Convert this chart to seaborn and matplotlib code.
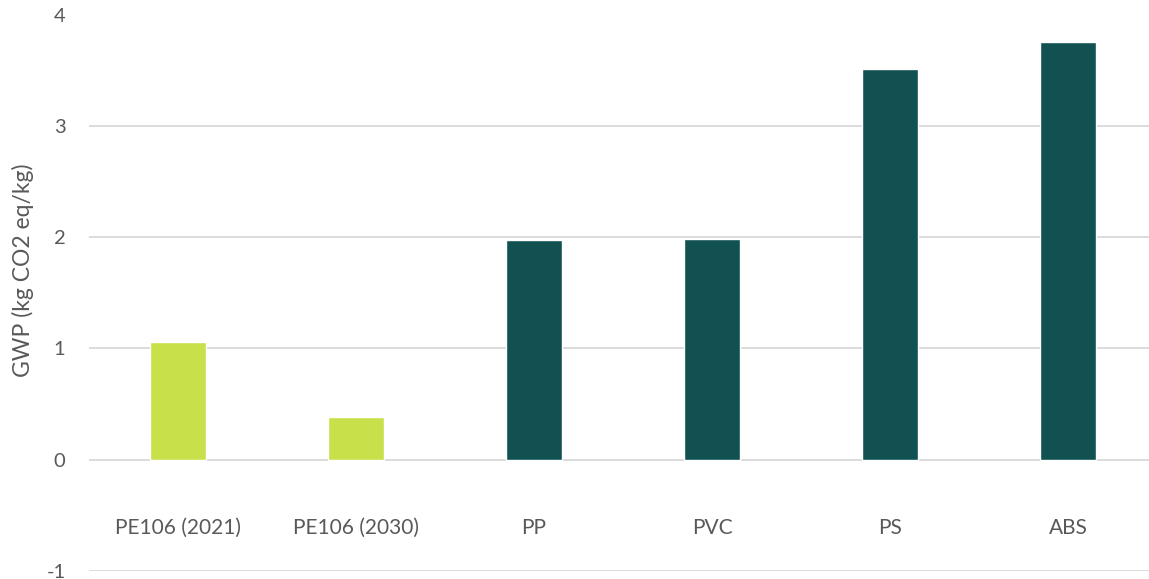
import matplotlib
matplotlib.use("Agg")
import matplotlib.pyplot as plt
import seaborn as sns
import pandas as pd

# data
materials = ["PE106 (2021)", "PE106 (2030)", "PP", "PVC", "PS", "ABS"]
gwp = [1.056, 0.38, 1.978, 1.982, 3.51, 3.75]
bar_colors = ["#C8E04A", "#C8E04A", "#115152", "#115152", "#115152", "#115152"]
y_ticks = [-1, 0, 1, 2, 3, 4]

sns.set_theme(style="white")
plt.rcParams["font.family"] = ["Lato", "DejaVu Sans"]
plt.rcParams["axes.unicode_minus"] = False

df = pd.DataFrame({"material": materials, "gwp": gwp})

fig = plt.figure(figsize=(11.49, 5.79), dpi=100)
# plot area runs past the right edge, as in the cropped original
ax = fig.add_axes([89 / 1149, 1 - 571 / 579, 1068 / 1149, 556.5 / 579])

sns.barplot(data=df, x="material", y="gwp", hue="material", palette=bar_colors,
            width=0.315, legend=False, saturation=1, ax=ax, zorder=3)

ax.set_xlim(-0.5, 5.5)
ax.set_ylim(-1, 4)
ax.set_yticks(y_ticks)
ax.grid(axis="y", color="#D9D9D9", linewidth=1.3, zorder=0)
ax.set_axisbelow(True)

for s in ax.spines.values():
    s.set_visible(False)
# category labels sit just under the zero line
ax.spines["bottom"].set_position(("data", 0))

ax.tick_params(axis="x", length=0, pad=42, labelsize=15, labelcolor="#595959")
ax.tick_params(axis="y", length=0, pad=17, labelsize=14.5, labelcolor="#595959")
ax.set_xlabel("")
ax.set_ylabel("GWP (kg CO2 eq/kg)", fontsize=16.5, color="#595959")
ax.yaxis.set_label_coords(-0.0515, 0.54)

fig.savefig("out.png", dpi=100)
